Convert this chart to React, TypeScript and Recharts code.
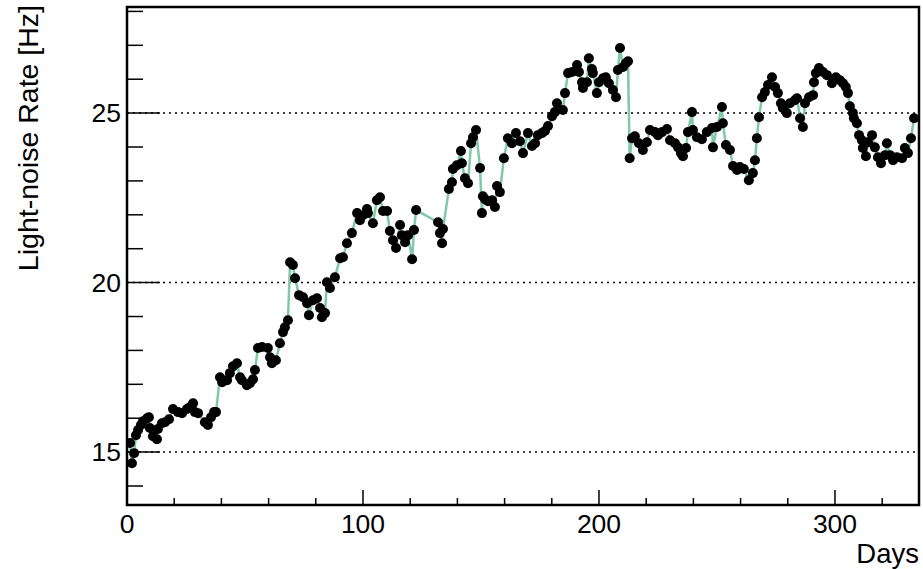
import React from "react";
import {
  ComposedChart,
  Line,
  XAxis,
  YAxis,
  ReferenceLine,
  ReferenceArea,
} from "recharts";

// days since start of run
const days = [
  1.3, 2.1, 3.0, 3.8, 4.7, 5.9, 6.8, 8.5, 9.3, 9.7, 11.0, 12.7, 13.1, 14.8, 16.1,
  17.8, 19.5, 21.6, 23.3, 25.4, 26.7, 28.0, 28.8, 30.1, 33.0, 34.3, 35.6, 36.9,
  37.7, 39.4, 40.3, 42.4, 43.6, 44.9, 46.6, 47.9, 48.7, 50.8, 52.1, 53.4, 54.2,
  55.5, 57.2, 59.7, 60.6, 61.4, 63.1, 64.8, 66.1, 66.9, 68.2, 69.1, 70.3, 71.2,
  72.9, 74.6, 76.3, 77.1, 78.8, 80.5, 81.8, 82.6, 83.9, 84.7, 86.0, 88.1, 90.3,
  91.5, 93.2, 95.3, 97.5, 98.7, 100.0, 101.7, 102.1, 104.2, 105.9, 107.2, 108.5,
  110.2, 111.4, 112.7, 114.0, 115.7, 116.5, 117.8, 119.1, 120.8, 121.6, 122.5,
  131.8, 132.6, 133.5, 133.9, 136.4, 137.7, 138.1, 139.8, 141.5, 141.9, 143.2,
  144.5, 145.8, 146.6, 147.9, 149.6, 150.4, 150.8, 151.7, 153.0, 154.7, 155.9,
  156.8, 158.0, 159.7, 161.4, 163.1, 164.8, 166.5, 167.8, 169.9, 171.6, 172.9,
  174.1, 175.8, 177.1, 178.4, 180.1, 181.3, 182.2, 184.7, 185.6, 186.9, 188.6,
  190.7, 191.5, 192.8, 193.2, 194.9, 195.7, 197.0, 197.4, 199.1, 200.0, 201.7,
  202.9, 204.2, 205.9, 207.2, 208.0, 208.9, 210.2, 211.4, 212.3, 213.0, 214.0,
  215.2, 216.9, 218.6, 220.3, 221.6, 223.7, 225.0, 226.7, 228.8, 230.1, 232.2,
  233.5, 234.7, 235.6, 236.9, 237.7, 239.4, 239.8, 241.5, 243.6, 245.7, 247.9,
  248.3, 250.0, 252.1, 252.5, 253.8, 255.5, 256.8, 258.5, 259.7, 261.4, 263.5,
  265.2, 266.1, 266.9, 267.8, 269.1, 270.3, 271.6, 273.3, 274.6, 275.8, 277.1,
  277.9, 279.6, 280.9, 283.0, 283.9, 285.2, 286.4, 287.3, 289.0, 290.7, 291.1,
  291.9, 293.2, 294.9, 296.6, 298.7, 300.4, 302.1, 303.4, 304.6, 305.5, 306.3,
  307.6, 308.0, 309.3, 310.2, 311.4, 311.8, 313.1, 314.0, 315.7, 316.9, 318.2,
  319.5, 321.2, 322.0, 323.3, 324.6, 326.2, 328.4, 329.6, 330.9, 332.2, 333.5,
];

// light-noise rate in Hz
const rates = [
  15.27, 14.67, 14.97, 15.5, 15.65, 15.8, 15.91, 16.0, 16.03, 15.71, 15.47, 15.38,
  15.68, 15.85, 15.88, 15.97, 16.27, 16.18, 16.15, 16.27, 16.33, 16.44, 16.18,
  16.15, 15.88, 15.8, 16.03, 16.18, 16.18, 17.21, 17.06, 17.12, 17.33, 17.53,
  17.62, 17.21, 17.12, 16.97, 17.03, 17.15, 17.42, 18.07, 18.1, 18.07, 17.8,
  17.62, 17.71, 18.21, 18.54, 18.68, 18.89, 20.6, 20.52, 20.13, 19.63, 19.57,
  19.39, 19.04, 19.48, 19.54, 19.25, 18.98, 19.1, 20.01, 19.84, 20.16, 20.72,
  20.75, 21.16, 21.46, 22.05, 21.84, 21.99, 22.17, 22.05, 21.75, 22.43, 22.52,
  22.11, 22.11, 21.52, 21.25, 21.02, 21.7, 21.4, 21.19, 21.4, 20.69, 21.55,
  22.14, 21.78, 21.46, 21.16, 21.58, 22.76, 22.96, 23.35, 23.46, 23.88, 23.52,
  23.08, 22.93, 24.11, 24.29, 24.5, 23.38, 22.05, 22.55, 22.46, 22.4, 22.43,
  22.23, 22.85, 22.67, 23.67, 24.26, 24.11, 24.41, 24.17, 23.82, 24.41, 24.03,
  24.11, 24.35, 24.41, 24.47, 24.62, 24.91, 25.03, 25.29, 25.09, 25.59, 26.18,
  26.21, 26.42, 26.21, 25.91, 25.74, 25.91, 26.62, 26.3, 26.18, 25.59, 25.91,
  26.03, 26.06, 25.88, 25.68, 25.47, 26.27, 26.92, 26.36, 26.47, 26.53, 23.67,
  24.26, 24.32, 24.11, 23.91, 24.14, 24.5, 24.44, 24.35, 24.44, 24.53, 24.2,
  24.11, 23.99, 23.82, 23.73, 23.97, 24.44, 25.03, 24.5, 24.29, 24.23, 24.44,
  24.56, 23.99, 24.59, 25.18, 24.7, 24.06, 23.91, 23.44, 23.32, 23.41, 23.35,
  23.02, 23.23, 23.61, 24.26, 24.88, 25.47, 25.62, 25.83, 26.06, 25.77, 25.59,
  25.29, 25.15, 25.0, 25.29, 25.38, 25.44, 24.85, 24.59, 25.29, 25.47, 25.53,
  25.91, 26.18, 26.33, 26.21, 26.12, 25.88, 26.06, 25.97, 25.88, 25.77, 25.59,
  25.2, 25.0, 24.85, 24.7, 24.35, 24.2, 23.97, 23.73, 24.14, 24.35, 23.99, 23.7,
  23.52, 23.76, 24.11, 23.76, 23.61, 23.7, 23.67, 23.97, 23.82, 24.26, 24.85,
];

const xTicks = [0, 20, 40, 60, 80, 100, 120, 140, 160, 180, 200, 220, 240, 260, 280, 300, 320];
const yTicks = [14, 15, 16, 17, 18, 19, 20, 21, 22, 23, 24, 25, 26, 27, 28];
const gridValues = [15, 20, 25];

const X_MAX = 335.6;
const Y_MIN = 13.44;
const Y_MAX = 28.13;

const FONT = "'Liberation Sans', Arial, Helvetica, sans-serif";

const data = days.map((d, i) => ({ day: d, rate: rates[i] }));

function XTick(props: any) {
  const { x, y, payload } = props;
  const major = payload.value % 100 === 0;
  return (
    <g>
      <line x1={x} x2={x} y1={y} y2={y - (major ? 15 : 7)} stroke="#000" strokeWidth={1.5} />
      {major && (
        <text x={x} y={y + 28} textAnchor="middle" fontSize={26.5} fontFamily={FONT} fill="#000">
          {payload.value}
        </text>
      )}
    </g>
  );
}

function YTick(props: any) {
  const { x, y, payload } = props;
  const major = payload.value % 5 === 0;
  return (
    <g>
      <line x1={x} x2={x + (major ? 33 : 16)} y1={y} y2={y} stroke="#000" strokeWidth={1.5} />
      {major && (
        <text x={x - 6} y={y + 9} textAnchor="end" fontSize={26.5} fontFamily={FONT} fill="#000">
          {payload.value}
        </text>
      )}
    </g>
  );
}

export default function App() {
  return (
    <div style={{ position: "absolute", left: 0, top: 0, background: "#fff" }}>
      <ComposedChart
        width={923}
        height={569}
        data={data}
        margin={{ top: 7, right: 4, left: 0, bottom: 0 }}
      >
        <XAxis
          dataKey="day"
          type="number"
          domain={[0, X_MAX]}
          ticks={xTicks}
          interval={0}
          allowDataOverflow
          height={64}
          tickSize={0}
          tickMargin={0}
          axisLine={false}
          tickLine={false}
          tick={<XTick />}
          label={() => (
            <text
              x={919}
              y={563}
              textAnchor="end"
              fontSize={27.5}
              fontFamily={FONT}
              fill="#000"
            >
              Days
            </text>
          )}
        />
        <YAxis
          type="number"
          domain={[Y_MIN, Y_MAX]}
          ticks={yTicks}
          interval={0}
          allowDataOverflow
          width={127}
          tickSize={0}
          tickMargin={0}
          axisLine={false}
          tickLine={false}
          tick={<YTick />}
          label={() => (
            <text
              x={38}
              y={5}
              transform="rotate(-90, 38, 5)"
              textAnchor="end"
              fontSize={28.5}
              fontFamily={FONT}
              fill="#000"
            >
              Light-noise Rate [Hz]
            </text>
          )}
        />
        {gridValues.map((v) => (
          <ReferenceLine
            key={v}
            y={v}
            stroke="#000"
            strokeWidth={1.5}
            strokeDasharray="2 4"
          />
        ))}
        <ReferenceArea
          x1={0}
          x2={X_MAX}
          y1={Y_MIN}
          y2={Y_MAX}
          fill="none"
          stroke="#000"
          strokeWidth={2.5}
          ifOverflow="visible"
        />
        <Line
          dataKey="rate"
          type="linear"
          stroke="#80c8a6"
          strokeWidth={2.5}
          dot={{ r: 5, fill: "#000", stroke: "#000", strokeWidth: 0 }}
          isAnimationActive={false}
        />
      </ComposedChart>
    </div>
  );
}
